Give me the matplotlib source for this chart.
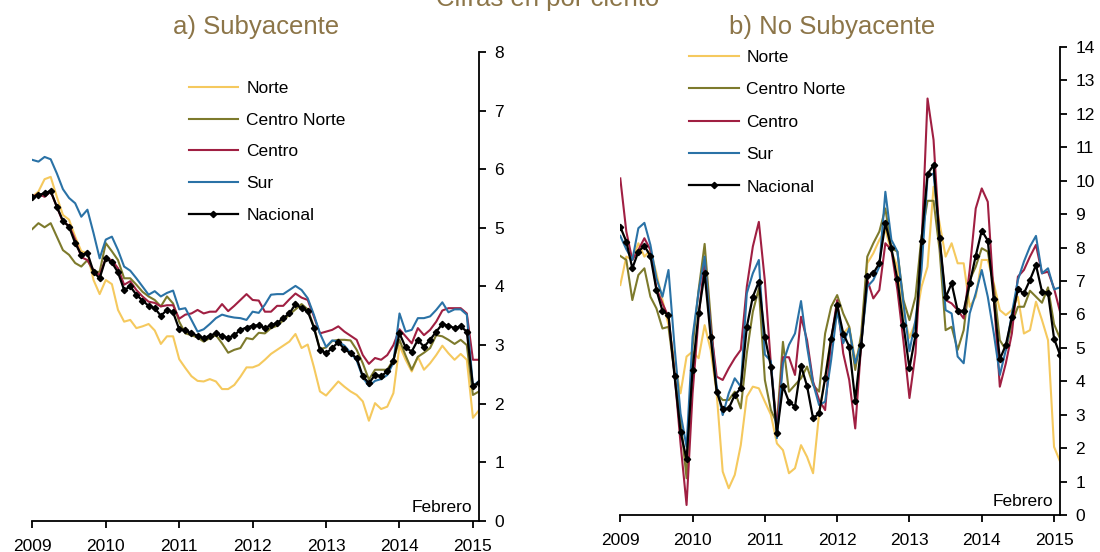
import numpy as np
import matplotlib.pyplot as plt

plt.rcParams['font.family'] = ['Liberation Sans', 'DejaVu Sans']

# monthly data, Jan 2009 .. Feb 2015
years = ['2009', '2010', '2011', '2012', '2013', '2014', '2015']
months = np.arange(74)
series_names = ['Norte', 'Centro Norte', 'Centro', 'Sur', 'Nacional']
colors = ['#F5C95E', '#7D7A2C', '#A01F42', '#2A72A6', '#000000']

# a) Subyacente
sub_norte = [5.53, 5.62, 5.83, 5.87, 5.53, 5.22, 5.14, 4.85, 4.60, 4.57, 4.11, 3.87,
             4.11, 4.04, 3.60, 3.40, 3.43, 3.29, 3.32, 3.36, 3.25, 3.02, 3.15, 3.15,
             2.76, 2.61, 2.47, 2.39, 2.38, 2.42, 2.38, 2.25, 2.25, 2.32, 2.46, 2.62,
             2.62, 2.66, 2.75, 2.85, 2.92, 2.99, 3.06, 3.19, 2.95, 3.01, 2.63, 2.21,
             2.14, 2.26, 2.38, 2.29, 2.21, 2.15, 2.04, 1.71, 2.01, 1.91, 1.95, 2.18,
             2.99, 2.75, 2.55, 2.80, 2.58, 2.69, 2.83, 2.99, 2.86, 2.75, 2.85, 2.75,
             1.76, 1.89]
sub_cnorte = [4.98, 5.08, 5.01, 5.08, 4.85, 4.62, 4.54, 4.40, 4.34, 4.45, 4.25, 4.25,
              4.74, 4.60, 4.45, 4.14, 4.14, 4.03, 3.91, 3.83, 3.77, 3.66, 3.83, 3.71,
              3.40, 3.20, 3.17, 3.13, 3.06, 3.12, 3.17, 3.03, 2.87, 2.92, 2.95, 3.12,
              3.10, 3.21, 3.20, 3.29, 3.33, 3.42, 3.52, 3.61, 3.70, 3.61, 3.32, 2.93,
              2.96, 3.07, 3.09, 3.09, 3.08, 2.92, 2.69, 2.41, 2.58, 2.58, 2.58, 2.75,
              3.09, 2.82, 2.58, 2.80, 2.87, 2.95, 3.17, 3.15, 3.09, 3.02, 3.09, 3.00,
              2.15, 2.21]
sub_centro = [5.53, 5.58, 5.53, 5.62, 5.36, 5.10, 5.04, 4.80, 4.50, 4.45, 4.28, 4.19,
              4.48, 4.45, 4.31, 4.03, 4.09, 3.94, 3.83, 3.74, 3.72, 3.66, 3.68, 3.68,
              3.45, 3.52, 3.54, 3.60, 3.54, 3.57, 3.57, 3.70, 3.58, 3.67, 3.77, 3.87,
              3.77, 3.76, 3.57, 3.57, 3.67, 3.67, 3.78, 3.88, 3.81, 3.77, 3.49, 3.20,
              3.23, 3.26, 3.32, 3.23, 3.16, 3.09, 2.83, 2.68, 2.78, 2.75, 2.83, 3.00,
              3.27, 3.15, 3.03, 3.29, 3.17, 3.26, 3.40, 3.59, 3.63, 3.63, 3.63, 3.54,
              2.75, 2.75]
sub_sur = [6.16, 6.13, 6.21, 6.17, 5.93, 5.66, 5.51, 5.42, 5.19, 5.31, 4.91, 4.48,
           4.80, 4.85, 4.62, 4.34, 4.27, 4.14, 4.00, 3.86, 3.92, 3.83, 3.89, 3.93,
           3.61, 3.63, 3.43, 3.23, 3.27, 3.36, 3.46, 3.52, 3.49, 3.47, 3.46, 3.43,
           3.57, 3.55, 3.69, 3.86, 3.87, 3.87, 3.94, 4.01, 3.94, 3.80, 3.52, 3.20,
           2.97, 3.08, 3.06, 2.99, 2.87, 2.74, 2.45, 2.30, 2.39, 2.42, 2.49, 2.70,
           3.54, 3.23, 3.26, 3.46, 3.46, 3.49, 3.60, 3.73, 3.56, 3.61, 3.61, 3.52,
           2.30, 2.39]
sub_nacional = [5.52, 5.56, 5.59, 5.63, 5.36, 5.12, 5.02, 4.74, 4.54, 4.57, 4.25, 4.14,
                4.48, 4.41, 4.24, 3.94, 4.00, 3.86, 3.76, 3.67, 3.63, 3.50, 3.60, 3.56,
                3.27, 3.25, 3.20, 3.16, 3.12, 3.16, 3.20, 3.16, 3.12, 3.17, 3.26, 3.30,
                3.33, 3.34, 3.29, 3.34, 3.38, 3.46, 3.54, 3.70, 3.63, 3.58, 3.30, 2.92,
                2.86, 2.95, 3.05, 2.93, 2.86, 2.78, 2.47, 2.35, 2.49, 2.47, 2.55, 2.73,
                3.20, 2.96, 2.89, 3.09, 2.97, 3.09, 3.23, 3.36, 3.33, 3.29, 3.32, 3.23,
                2.30, 2.36]

# b) No Subyacente
nsub_norte = [6.88, 7.73, 7.63, 8.13, 7.73, 7.93, 7.23, 6.43, 5.68, 4.60, 3.64, 4.74,
              4.89, 4.69, 5.68, 4.94, 3.64, 1.30, 0.80, 1.20, 2.09, 3.54, 3.84, 3.79,
              3.39, 3.00, 2.14, 1.94, 1.25, 1.40, 2.09, 1.74, 1.25, 3.04, 4.14, 5.33,
              6.03, 5.43, 5.63, 4.64, 5.14, 7.53, 7.83, 8.23, 8.53, 7.88, 7.43, 6.03,
              5.30, 5.78, 6.83, 7.43, 9.82, 8.72, 7.73, 8.13, 7.53, 7.53, 6.23, 6.53,
              7.63, 7.63, 6.93, 6.13, 5.98, 6.13, 6.53, 5.43, 5.53, 6.38, 5.83, 5.23,
              2.04, 1.60]
nsub_cnorte = [7.75, 7.63, 6.43, 7.18, 7.38, 6.53, 6.18, 5.58, 5.63, 4.24, 2.84, 1.10,
               5.04, 6.73, 8.11, 5.90, 3.64, 3.44, 3.44, 3.69, 3.19, 4.84, 6.08, 6.78,
               4.04, 3.14, 2.74, 5.18, 3.69, 3.89, 4.09, 4.44, 3.89, 3.69, 5.43, 6.23,
               6.58, 6.03, 5.63, 4.34, 5.43, 7.73, 8.13, 8.48, 9.17, 7.98, 7.88, 6.43,
               5.83, 6.53, 8.33, 9.40, 9.40, 7.93, 5.53, 5.63, 4.94, 5.53, 7.03, 7.43,
               7.98, 7.88, 6.83, 5.23, 4.94, 5.73, 6.23, 6.23, 6.71, 6.53, 6.35, 6.81,
               5.71, 5.28]
nsub_centro = [10.07, 8.48, 7.63, 7.93, 8.28, 7.93, 6.78, 6.33, 5.93, 4.24, 2.14, 0.30,
               3.64, 5.93, 7.63, 5.63, 4.14, 4.04, 4.39, 4.69, 4.94, 6.83, 8.03, 8.77,
               7.00, 4.50, 2.60, 4.72, 4.72, 4.19, 5.93, 5.23, 3.99, 3.44, 3.14, 5.23,
               6.43, 4.84, 4.04, 2.59, 5.14, 7.03, 6.48, 6.73, 8.13, 7.93, 6.73, 5.20,
               3.50, 4.84, 8.03, 12.46, 11.22, 8.23, 6.43, 6.33, 6.13, 5.88, 7.33, 9.17,
               9.77, 9.37, 6.53, 3.84, 4.54, 5.43, 7.13, 7.33, 7.73, 8.08, 7.23, 7.28,
               6.78, 6.08]
nsub_sur = [8.35, 7.95, 7.63, 8.58, 8.74, 8.08, 7.08, 6.53, 7.33, 5.04, 3.04, 2.04,
            5.33, 6.68, 7.73, 5.50, 3.84, 2.99, 3.64, 4.09, 3.84, 6.63, 7.23, 7.63,
            4.80, 4.60, 2.30, 4.54, 5.09, 5.43, 6.40, 5.04, 3.94, 3.29, 3.39, 4.64,
            6.13, 5.14, 5.58, 4.54, 5.14, 6.83, 7.03, 7.43, 9.67, 8.23, 7.88, 6.33,
            4.90, 5.83, 7.33, 10.12, 10.22, 8.33, 6.13, 6.03, 4.74, 4.54, 6.03, 6.63,
            7.33, 6.53, 5.43, 4.19, 4.94, 6.03, 7.03, 7.58, 8.03, 8.35, 7.23, 7.38,
            6.75, 6.81]
nsub_nacional = [8.62, 8.18, 7.38, 7.88, 8.05, 7.75, 6.73, 6.11, 5.98, 4.16, 2.49, 1.67,
                 4.34, 6.03, 7.23, 5.33, 3.69, 3.16, 3.19, 3.59, 3.79, 5.63, 6.53, 6.98,
                 5.33, 4.44, 2.44, 3.86, 3.39, 3.24, 4.46, 3.86, 2.89, 3.04, 4.09, 5.28,
                 6.28, 5.43, 5.04, 3.42, 5.09, 7.15, 7.23, 7.53, 8.74, 7.98, 7.05, 5.68,
                 4.39, 5.38, 8.21, 10.20, 10.47, 8.28, 6.51, 6.93, 6.11, 6.11, 6.93, 7.75,
                 8.51, 8.21, 6.45, 4.66, 5.09, 5.91, 6.75, 6.63, 7.03, 7.48, 6.68, 6.65,
                 5.28, 4.79]

title_color = '#8C7548'
fs = 12.5

fig = plt.figure(figsize=(11, 5.52), dpi=100)
ax1 = fig.add_axes([0.0294, 0.0562, 0.4061, 0.8496])
ax2 = fig.add_axes([0.5639, 0.0670, 0.3998, 0.8478])

panels = [
    (ax1, [sub_norte, sub_cnorte, sub_centro, sub_sur, sub_nacional], 8),
    (ax2, [nsub_norte, nsub_cnorte, nsub_centro, nsub_sur, nsub_nacional], 14),
]

for ax, data, ymax in panels:
    for name, vals, c in zip(series_names, data, colors):
        if name == 'Nacional':
            ax.plot(months, vals, color=c, lw=1.6, marker='D', ms=3.2, label=name)
        else:
            ax.plot(months, vals, color=c, lw=1.5, label=name)
    ax.set_xlim(0, 73)
    ax.set_ylim(0, ymax)
    ax.set_xticks(np.arange(0, 73, 12))
    ax.set_xticklabels(years)
    ax.set_yticks(np.arange(0, ymax + 1, 1))
    ax.yaxis.tick_right()
    ax.spines['left'].set_visible(False)
    ax.spines['top'].set_visible(False)
    for s in ['right', 'bottom']:
        ax.spines[s].set_linewidth(1.3)
    ax.tick_params(axis='x', direction='out', length=5, width=1.3, pad=8, labelsize=fs)
    ax.tick_params(axis='y', direction='out', length=5, width=1.3, pad=6, labelsize=fs)
    ax.text(0.985, 0.012, 'Febrero', transform=ax.transAxes, ha='right', va='bottom', fontsize=fs)

# panel titles
fig.text(256 / 1100, 1 - 34 / 552, 'a) Subyacente', ha='center', va='baseline',
         color=title_color, fontsize=18.5)
fig.text(832 / 1100, 1 - 34 / 552, 'b) No Subyacente', ha='center', va='baseline',
         color=title_color, fontsize=18.5)

ax1.legend(loc='upper left', bbox_to_anchor=(189 / 1100, 1 - 81 / 552), bbox_transform=fig.transFigure,
           frameon=False, fontsize=fs, handlelength=2.8, handletextpad=0.5, labelspacing=0.95,
           borderpad=0, borderaxespad=0)
ax2.legend(loc='upper left', bbox_to_anchor=(689 / 1100, 1 - 50 / 552), bbox_transform=fig.transFigure,
           frameon=False, fontsize=fs, handlelength=2.9, handletextpad=0.4, labelspacing=0.99,
           borderpad=0, borderaxespad=0)

fig.text(0.498, 1 - 6 / 552, 'Cifras en por ciento', ha='center', va='baseline',
         color=title_color, fontsize=18.5)

fig.savefig('out.png', dpi=100)
